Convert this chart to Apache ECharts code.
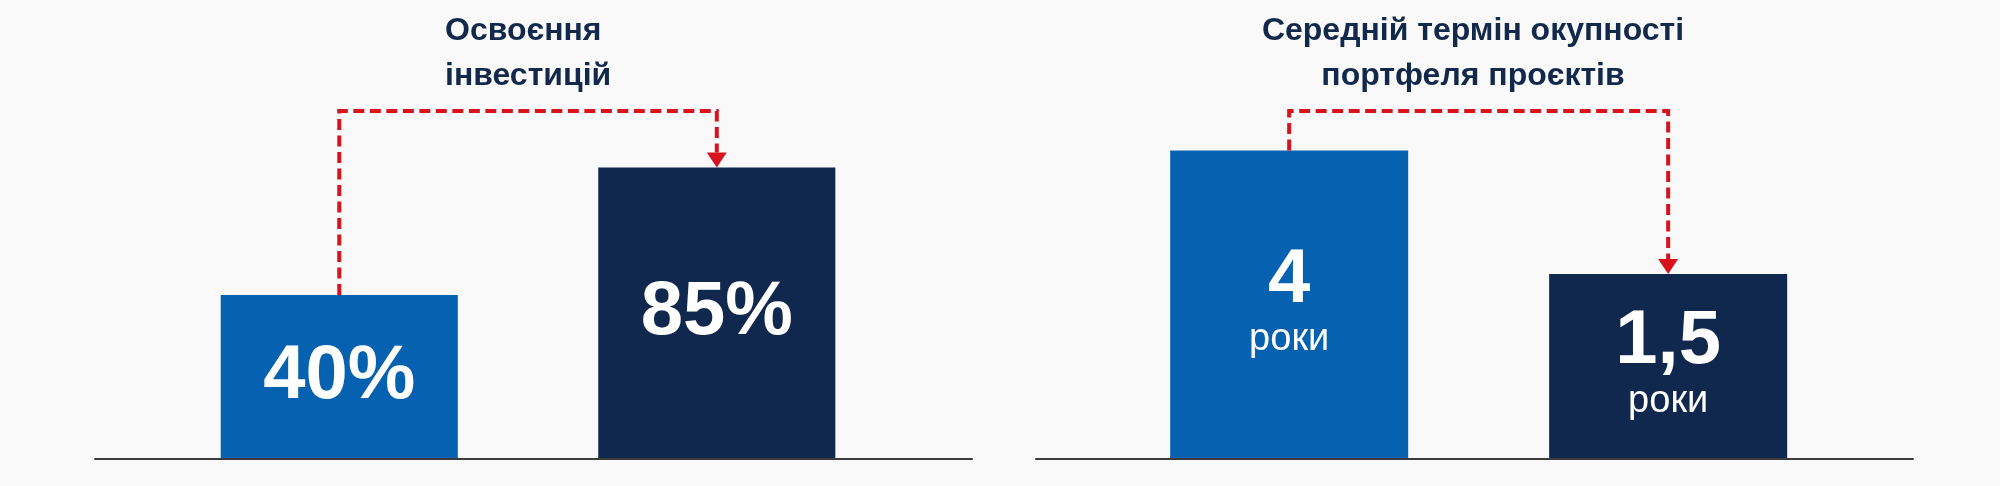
<!DOCTYPE html>
<html><head><meta charset="utf-8">
<script src="https://cdn.jsdelivr.net/npm/echarts@6/dist/echarts.min.js"></script>
<style>html,body{margin:0;padding:0;background:#F9F9F9}#c{width:2000px;height:486px}</style>
</head><body><div id="c"></div>
<script>
// ---- data ----
const investTitle = ['Освоєння', 'інвестицій'];
const investValues = [40, 85];
const investUnit = '%';
const paybackTitle = ['Середній термін окупності', 'портфеля проєктів'];
const paybackValues = [4, 1.5];
const paybackUnit = 'роки';

// ---- style ----
const BAR_COLORS = ['#0662B0', '#10274E'];
const RED = '#D7141E';
const NAVY = '#13294B';
const FAMILY = '"Liberation Sans", Arial, Helvetica, sans-serif';

function barSeries(idx, values, labelFn) {
  return {
    type: 'custom', xAxisIndex: idx, yAxisIndex: idx, clip: false, z: 2,
    data: values.map((v, i) => [i, v]),
    encode: { x: 0, y: 1 },
    renderItem(params, api) {
      const i = api.value(0), v = api.value(1);
      const top = api.coord([i, v]);
      const cs = params.coordSys;
      const base = cs.y + cs.height;
      const w = api.size([0.628, 0])[0];
      const cx = top[0];
      return { type: 'group', children: [
        { type: 'rect', shape: { x: cx - w / 2, y: top[1], width: w, height: base - top[1] },
          style: { fill: BAR_COLORS[params.dataIndex] } },
        { type: 'text', x: cx, y: (top[1] + base) / 2, style: labelFn(v) }
      ]};
    }
  };
}

function bracketSeries(idx, values) {
  return {
    type: 'custom', xAxisIndex: idx, yAxisIndex: idx, clip: false, z: 3,
    data: [[0, values[0], 1, values[1]]],
    encode: { x: [0, 2], y: [1, 3] },
    renderItem(params, api) {
      const p0 = api.coord([api.value(0), api.value(1)]);
      const p1 = api.coord([api.value(2), api.value(3)]);
      const yTop = params.coordSys.y;
      const ah = 15, aw = 10;
      return { type: 'group', children: [
        { type: 'polyline',
          shape: { points: [[p0[0], p0[1]], [p0[0], yTop], [p1[0], yTop], [p1[0], p1[1] - ah]] },
          style: { stroke: RED, lineWidth: 4, lineDash: [11, 5.5], fill: null } },
        { type: 'polygon',
          shape: { points: [[p1[0] - aw, p1[1] - ah], [p1[0] + aw, p1[1] - ah], [p1[0], p1[1]]] },
          style: { fill: RED } }
      ]};
    }
  };
}

const investLabel = v => ({
  text: v + investUnit, fill: '#fff', font: 'bold 76px ' + FAMILY,
  textAlign: 'center', textVerticalAlign: 'middle'
});
const paybackLabel = v => ({
  text: '{v|' + String(v).replace('.', ',') + '}\n{u|' + paybackUnit + '}',
  textAlign: 'center', textVerticalAlign: 'middle',
  rich: {
    v: { fill: '#fff', fontSize: 76, fontWeight: 'bold', fontFamily: FAMILY, lineHeight: 70 },
    u: { fill: '#fff', fontSize: 38, fontFamily: FAMILY, lineHeight: 48 }
  }
});

const xAxisBase = {
  type: 'value',
  axisLine: { show: true, onZero: false, lineStyle: { color: '#3C3C3C', width: 2 } },
  axisTick: { show: false }, axisLabel: { show: false }, splitLine: { show: false }, z: 5
};

const chart = echarts.init(document.getElementById('c'));
chart.setOption({
  backgroundColor: '#F9F9F9',
  animation: false,
  grid: [
    { left: 95, width: 877, top: 111, height: 348 },
    { left: 1036, width: 877, top: 111, height: 348 }
  ],
  xAxis: [
    Object.assign({ gridIndex: 0, min: -0.647, max: 1.676 }, xAxisBase),
    Object.assign({ gridIndex: 1, min: -0.668, max: 1.646 }, xAxisBase)
  ],
  yAxis: [
    { gridIndex: 0, type: 'value', min: -18, max: 105, show: false },
    { gridIndex: 1, type: 'value', min: -2.25, max: 4.8, show: false }
  ],
  graphic: [
    { type: 'text', x: 445, y: 8.5,
      style: { text: investTitle.join('\n'), font: 'bold 32px ' + FAMILY, fill: NAVY,
               lineHeight: 45, textAlign: 'left', textVerticalAlign: 'top' } },
    { type: 'text', x: 1473, y: 8.5,
      style: { text: paybackTitle.join('\n'), font: 'bold 32px ' + FAMILY, fill: NAVY,
               lineHeight: 45, textAlign: 'center', textVerticalAlign: 'top' } }
  ],
  series: [
    barSeries(0, investValues, investLabel),
    bracketSeries(0, investValues),
    barSeries(1, paybackValues, paybackLabel),
    bracketSeries(1, paybackValues)
  ]
});
</script>
</body></html>
